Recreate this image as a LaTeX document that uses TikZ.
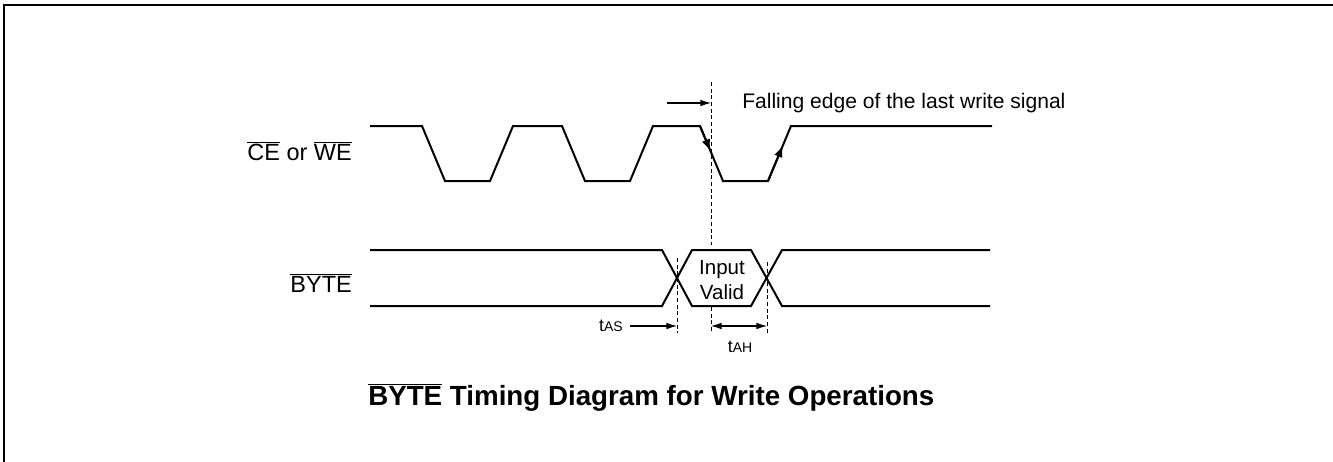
\documentclass[tikz,border=0pt]{standalone}
\usepackage{fontspec}
\setmainfont{Liberation Sans}
\usetikzlibrary{arrows.meta}
\newcommand{\ovl}[1]{$\overline{\mbox{#1}}$}
\newcommand{\fsz}[1]{\fontsize{#1}{1.2\dimexpr#1pt\relax}\selectfont}

\begin{document}
\begin{tikzpicture}[x=0.75pt, y=-0.75pt, >={Latex[length=8pt,width=5pt]},
    sig/.style={line width=1.5pt, line join=miter},
    guide/.style={line width=0.75pt, dash pattern=on 3pt off 2pt},
    dim/.style={line width=0.8pt},
    lbl/.style={inner sep=0pt, font=\fsz{17.6}}]
\useasboundingbox (0,0) rectangle (1333,461);
\draw[line width=1.5pt] (4,470) -- (4,5) -- (1340,5);

% CE or WE
\draw[sig] (370,126) -- (422,126) -- (445,181) -- (490,181) -- (513,126) -- (562,126)
  -- (585,181) -- (630,181) -- (653,126) -- (700,126) -- (723,181) -- (768,181)
  -- (791,126) -- (992,126);
\draw[sig, -{Latex[length=9pt,width=6.5pt]}] (700,126) -- (710.6,151.3);
\draw[sig, -{Latex[length=9pt,width=6.5pt]}] (768,181) -- (783,145.2);

% BYTE
\draw[sig] (370,250) -- (662,250) -- (692,306) -- (751,306) -- (782,250) -- (990,250);
\draw[sig] (370,306) -- (662,306) -- (692,250) -- (751,250) -- (782,306) -- (990,306);

\coordinate (last) at (711,82);
\coordinate (setup) at (677,258);
\coordinate (hold) at (767,262);
\draw[guide] (last) -- (711,245);
\draw[guide] (711,307) -- (711,333);
\draw[guide] (setup) -- (677,333);
\draw[guide] (hold) -- (767,335);

\coordinate (fe) at (667,103);
\draw[dim,->] (fe) -- (last |- fe);
\coordinate (as) at (630,326);
\draw[dim,->] (as) -- (setup |- as);
\draw[dim,<->] (711,326) -- (hold |- as);

\node[lbl, anchor=base east] (cewe) at (352,160.7) {\ovl{CE} or \ovl{WE}};
\node[lbl, anchor=base east] (byte) at (352,292.7) {\ovl{BYTE}};
\node[inner sep=0pt, anchor=base west, font=\fsz{15.8}] (falling) at (742,108.3) {Falling edge of the last write signal};
\node[inner sep=0pt, align=center, font=\fontsize{15.4}{18.75}\selectfont] (valid) at (722,280) {Input\\Valid};
\node[inner sep=0pt, anchor=base east] (tas) at (623,331.7) {\fsz{13.3}t\fsz{10.5}AS};
\node[inner sep=0pt, anchor=base] (tah) at (740,352.7) {\fsz{13.3}t\fsz{10.5}AH};
\node[inner sep=0pt, anchor=base west, font=\fsz{20.8}\bfseries] (title) at (368,405) {\ovl{BYTE} Timing Diagram for Write Operations};
\end{tikzpicture}
\end{document}
